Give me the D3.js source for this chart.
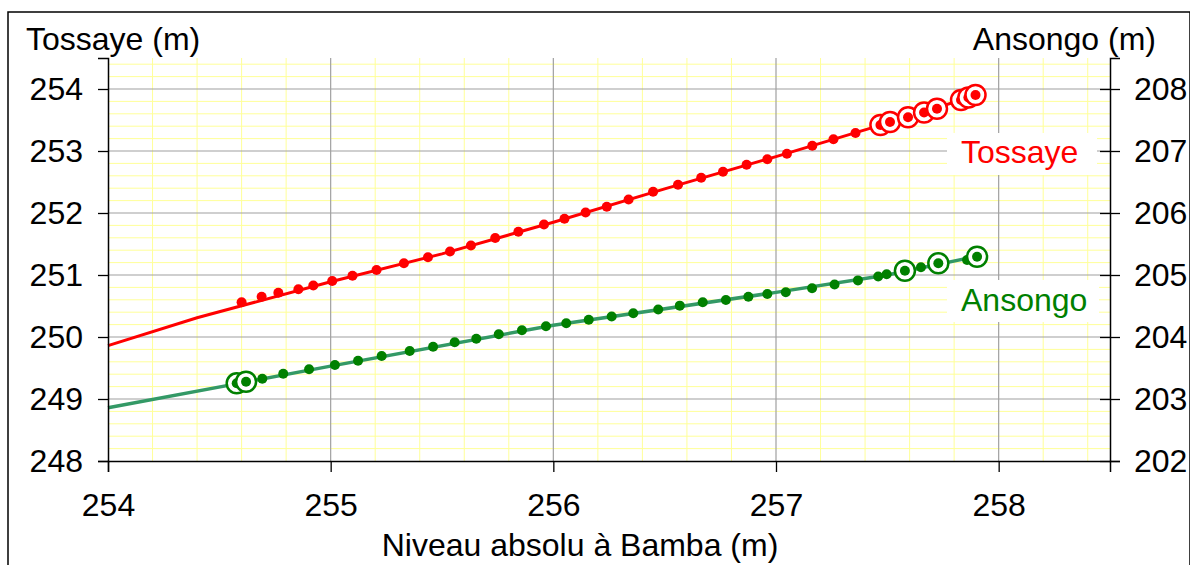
<!DOCTYPE html>
<html>
<head>
<meta charset="utf-8">
<script src="https://cdn.jsdelivr.net/npm/d3@7"></script>
<style>
  body { margin: 0; background: #fff; }
  text { font-family: "Liberation Sans", Arial, sans-serif; }
</style>
</head>
<body>
<div id="chart"></div>
<script>
// Tick values
const bambaTicks = [254, 255, 256, 257, 258];
const tossayeTicks = [248, 249, 250, 251, 252, 253, 254];
const ansongoTicks = [202, 203, 204, 205, 206, 207, 208];

// Tossaye measurements (x = Bamba level, y = Tossaye level)
const tossayeBamba = [254.600, 254.690, 254.765, 254.855, 254.922, 255.007, 255.098, 255.206, 255.329, 255.437,
  255.536, 255.630, 255.739, 255.843, 255.958, 256.050, 256.145, 256.240, 256.338, 256.448,
  256.560, 256.664, 256.762, 256.868, 256.961, 257.049, 257.163, 257.258, 257.357, 257.469,
  257.512, 257.593, 257.665, 257.723, 257.831, 257.864, 257.896];
const tossayeLevel = [250.560, 250.650, 250.715, 250.771, 250.831, 250.903, 250.987, 251.081, 251.189, 251.285,
  251.379, 251.476, 251.597, 251.699, 251.815, 251.908, 252.008, 252.100, 252.218, 252.342,
  252.455, 252.568, 252.666, 252.777, 252.866, 252.955, 253.085, 253.189, 253.290, 253.419,
  253.468, 253.544, 253.621, 253.682, 253.823, 253.863, 253.903];
// Tossaye points marked with a ring
const tossayeRingBamba = [257.469, 257.512, 257.593, 257.665, 257.723, 257.831, 257.864, 257.896];
const tossayeRingLevel = [253.419, 253.468, 253.544, 253.621, 253.682, 253.823, 253.863, 253.903];
// Tossaye fitted curve
const tossayeFitBamba = [254.0, 254.4, 255.0, 255.5, 256.0, 256.5, 257.0, 257.5, 257.9];
const tossayeFitLevel = [249.86, 250.31, 250.89, 251.34, 251.85, 252.39, 252.91, 253.45, 253.90];

// Ansongo measurements (x = Bamba level, y = Ansongo level)
const ansongoBamba = [254.578, 254.620, 254.693, 254.787, 254.903, 255.019, 255.123, 255.229, 255.355, 255.460,
  255.557, 255.654, 255.755, 255.859, 255.967, 256.058, 256.159, 256.262, 256.359, 256.471,
  256.568, 256.671, 256.775, 256.876, 256.961, 257.044, 257.162, 257.263, 257.368, 257.459,
  257.497, 257.579, 257.651, 257.729, 257.858, 257.903];
const ansongoLevel = [203.253, 203.279, 203.327, 203.408, 203.479, 203.548, 203.618, 203.694, 203.774, 203.844,
  203.915, 203.973, 204.044, 204.110, 204.174, 204.223, 204.279, 204.331, 204.384, 204.444,
  204.506, 204.560, 204.597, 204.648, 204.694, 204.721, 204.787, 204.847, 204.913, 204.976,
  205.011, 205.069, 205.124, 205.189, 205.242, 205.295];
const ansongoRingBamba = [254.578, 254.620, 257.579, 257.729, 257.903];
const ansongoRingLevel = [203.253, 203.279, 205.069, 205.189, 205.295];
const ansongoFitBamba = [254.0, 254.6, 255.0, 256.0, 257.0, 257.5, 257.9];
const ansongoFitLevel = [202.86, 203.26, 203.53, 204.19, 204.72, 205.00, 205.30];

const W = 1190, H = 565;
const margin = {top: 58, right: 80, bottom: 104, left: 108};
const width = W - margin.left - margin.right;
const height = H - margin.top - margin.bottom;
const fontSize = "32px";

const svg = d3.select("#chart").append("svg")
    .attr("width", W)
    .attr("height", H);

// outer frame
svg.append("rect")
    .attr("x", 8).attr("y", 12)
    .attr("width", W - 8).attr("height", H)
    .attr("fill", "none").attr("stroke", "#000").attr("stroke-width", 1.5);

const g = svg.append("g").attr("transform", `translate(${margin.left},${margin.top})`);

const x = d3.scaleLinear().domain([254, 258.5]).range([0, width]);
const yL = d3.scaleLinear().domain([248, 254.5]).range([height, 0]);
const yR = d3.scaleLinear().domain([202, 208.5]).range([height, 0]);

// minor grid (yellow)
const minorX = d3.range(254.2, 258.45, 0.2).filter(v => Math.abs(v - Math.round(v)) > 0.01);
const minorY = d3.range(248.2, 254.45, 0.2).filter(v => Math.abs(v - Math.round(v)) > 0.01);
g.append("g").selectAll("line").data(minorX).join("line")
    .attr("x1", d => x(d)).attr("x2", d => x(d))
    .attr("y1", 0).attr("y2", height)
    .attr("stroke", "#ffff99").attr("stroke-width", 1);
g.append("g").selectAll("line").data(minorY).join("line")
    .attr("x1", 0).attr("x2", width)
    .attr("y1", d => yL(d)).attr("y2", d => yL(d))
    .attr("stroke", "#ffff99").attr("stroke-width", 1);

// major grid (grey)
g.append("g").selectAll("line").data(bambaTicks.slice(1)).join("line")
    .attr("x1", d => x(d)).attr("x2", d => x(d))
    .attr("y1", 0).attr("y2", height)
    .attr("stroke", "#a0a0a0").attr("stroke-width", 1.2);
g.append("g").selectAll("line").data(tossayeTicks.slice(1)).join("line")
    .attr("x1", 0).attr("x2", width)
    .attr("y1", d => yL(d)).attr("y2", d => yL(d))
    .attr("stroke", "#a0a0a0").attr("stroke-width", 1.2);

// fitted curves
const tossayeFit = tossayeFitBamba.map((b, i) => [b, tossayeFitLevel[i]]);
const ansongoFit = ansongoFitBamba.map((b, i) => [b, ansongoFitLevel[i]]);

g.append("path")
    .datum(tossayeFit)
    .attr("fill", "none").attr("stroke", "#ff0000").attr("stroke-width", 3)
    .attr("d", d3.line().x(d => x(d[0])).y(d => yL(d[1])));

g.append("path")
    .datum(ansongoFit)
    .attr("fill", "none").attr("stroke", "#339966").attr("stroke-width", 3.5)
    .attr("d", d3.line().x(d => x(d[0])).y(d => yR(d[1])));

// measured points
g.append("g").selectAll("circle").data(tossayeBamba).join("circle")
    .attr("cx", d => x(d)).attr("cy", (d, i) => yL(tossayeLevel[i]))
    .attr("r", 5).attr("fill", "#ff0000");

g.append("g").selectAll("circle").data(ansongoBamba).join("circle")
    .attr("cx", d => x(d)).attr("cy", (d, i) => yR(ansongoLevel[i]))
    .attr("r", 5).attr("fill", "#008000");

// ringed points
tossayeRingBamba.forEach((b, i) => {
    g.append("circle").attr("cx", x(b)).attr("cy", yL(tossayeRingLevel[i]))
        .attr("r", 10).attr("fill", "#fff").attr("stroke", "#ff0000").attr("stroke-width", 2.5);
    g.append("circle").attr("cx", x(b)).attr("cy", yL(tossayeRingLevel[i]))
        .attr("r", 5).attr("fill", "#ff0000");
});
ansongoRingBamba.forEach((b, i) => {
    g.append("circle").attr("cx", x(b)).attr("cy", yR(ansongoRingLevel[i]))
        .attr("r", 10).attr("fill", "#fff").attr("stroke", "#008000").attr("stroke-width", 2.5);
    g.append("circle").attr("cx", x(b)).attr("cy", yR(ansongoRingLevel[i]))
        .attr("r", 5).attr("fill", "#008000");
});

// series labels on white boxes
svg.append("rect").attr("x", 947).attr("y", 133).attr("width", 150).attr("height", 42).attr("fill", "#fff");
svg.append("text").attr("x", 961).attr("y", 163).attr("fill", "#ff0000")
    .style("font-size", fontSize).text("Tossaye");
svg.append("rect").attr("x", 947).attr("y", 280).attr("width", 152).attr("height", 42).attr("fill", "#fff");
svg.append("text").attr("x", 961).attr("y", 311).attr("fill", "#008000")
    .style("font-size", fontSize).text("Ansongo");

// axes
const axisStyle = sel => {
    sel.select(".domain").attr("stroke", "#000").attr("stroke-width", 1.5);
    sel.selectAll(".tick line").attr("stroke", "#000").attr("stroke-width", 1.3);
    sel.selectAll(".tick text").style("font-size", fontSize).attr("fill", "#000")
        .style("font-family", "'Liberation Sans', Arial, sans-serif");
};

g.append("g")
    .attr("transform", `translate(0,${height})`)
    .call(d3.axisBottom(x).tickValues(bambaTicks).tickFormat(d3.format("d")).tickSizeOuter(0).tickSize(11).tickPadding(21))
    .call(axisStyle);

g.append("g")
    .call(d3.axisLeft(yL).tickValues(tossayeTicks).tickFormat(d3.format("d")).tickSizeOuter(0).tickSize(10).tickPadding(15))
    .call(axisStyle);

const right = g.append("g")
    .attr("transform", `translate(${width},0)`)
    .call(d3.axisRight(yR).tickValues(ansongoTicks).tickFormat(d3.format("d")).tickSizeOuter(0).tickSize(10).tickPadding(14))
    .call(axisStyle);
right.selectAll(".tick line").attr("x1", -10).attr("x2", 10);

// axis titles
svg.append("text").attr("x", 26).attr("y", 50).style("font-size", fontSize).text("Tossaye (m)");
svg.append("text").attr("x", 1156).attr("y", 50).attr("text-anchor", "end").style("font-size", fontSize).text("Ansongo (m)");
svg.append("text").attr("x", 580).attr("y", 556).attr("text-anchor", "middle").style("font-size", fontSize)
    .text("Niveau absolu à Bamba (m)");
</script>
</body>
</html>
